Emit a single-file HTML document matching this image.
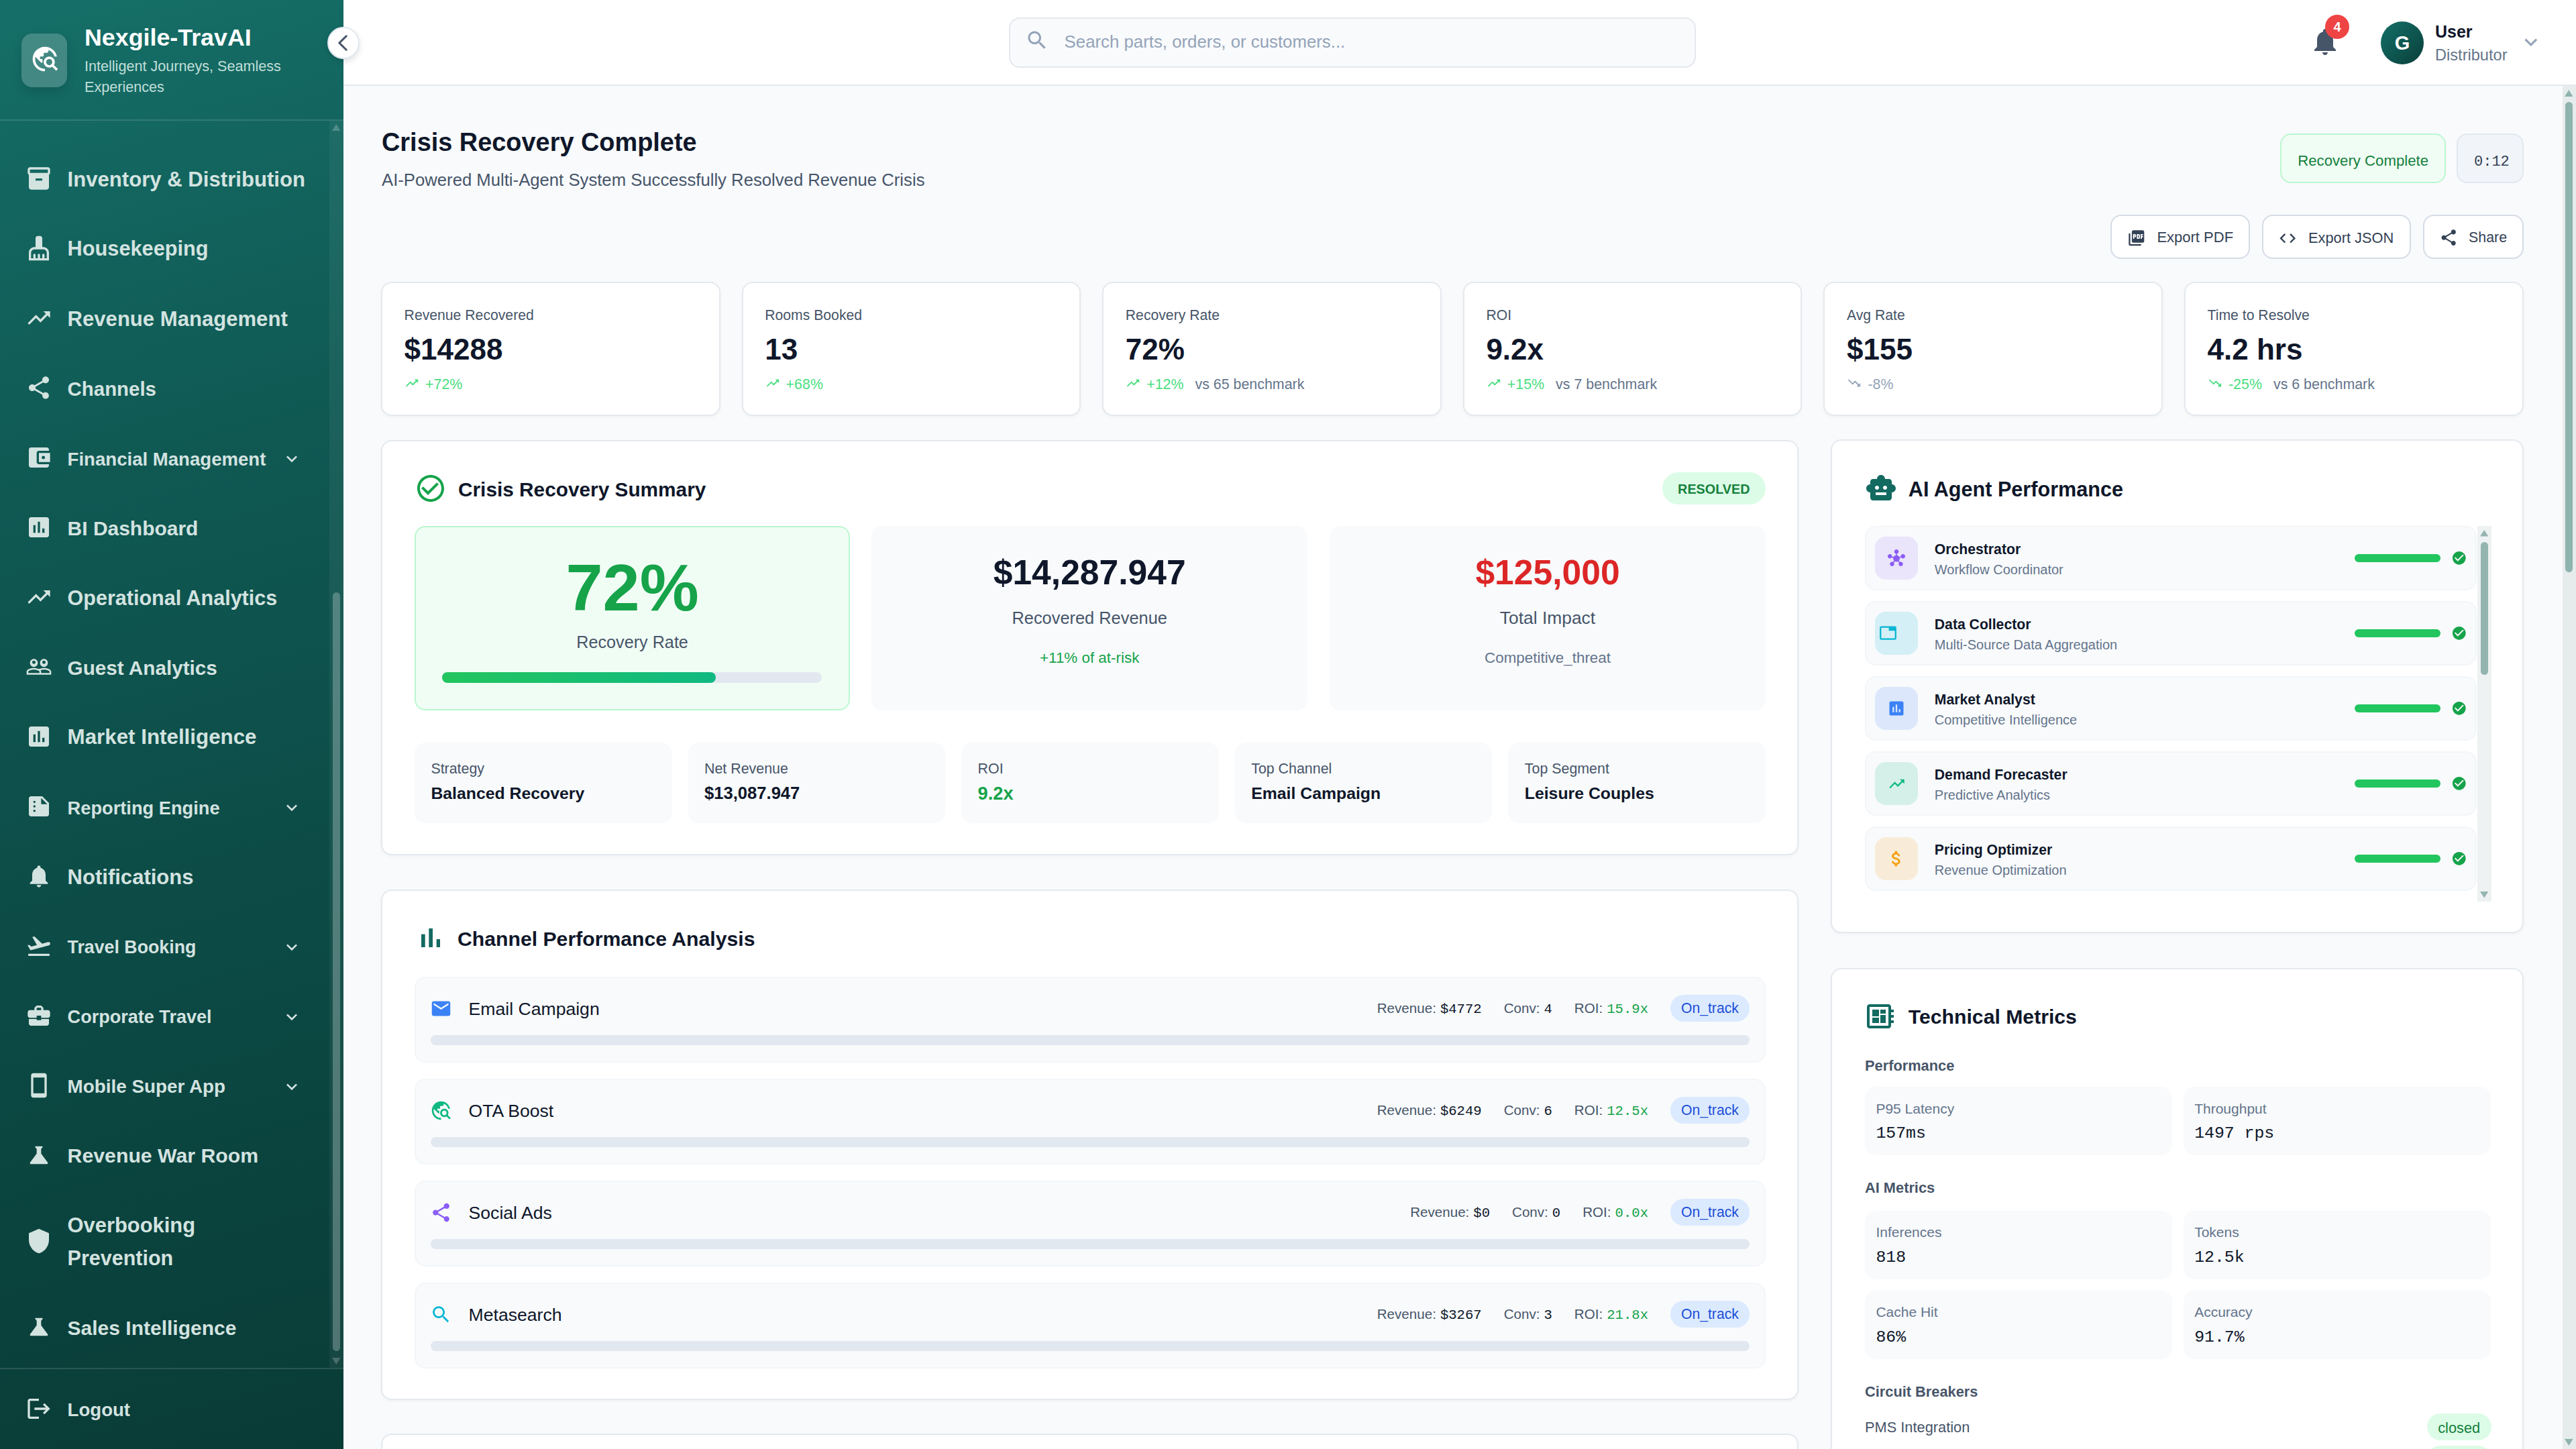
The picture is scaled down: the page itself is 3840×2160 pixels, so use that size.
<!DOCTYPE html>
<html><head><meta charset="utf-8"><title>Nexgile-TravAI</title>
<style>
html,body{margin:0;padding:0;overflow:hidden;background:#f8fafc;}
#root{position:relative;width:1920px;height:1080px;overflow:hidden;font-family:'Liberation Sans', sans-serif;}
@media (min-width: 2400px) { #root{zoom:2;} }
.t{position:absolute;white-space:nowrap;line-height:1;}
svg{display:block;}
</style></head><body><div id="root">
<div style="position:absolute;left:0.00px;top:0.00px;width:256.00px;height:1080.00px;background:linear-gradient(165deg,#156f68 0%,#105a54 30%,#0c4a45 65%,#093b36 100%);"></div>
<div style="position:absolute;left:0.00px;top:89.00px;width:256.00px;height:1.00px;background:rgba(255,255,255,0.13);"></div>
<div style="position:absolute;left:16.00px;top:25.00px;width:34.00px;height:40.00px;border-radius:8px;background:rgba(255,255,255,0.2);box-shadow:0 4px 8px rgba(0,0,0,0.12);"></div>
<svg style="position:absolute;left:22.30px;top:33.00px;" width="22" height="22" viewBox="0 0 24 24"><path fill="#ffffff" d="M19.3 16.9c.4-.7.7-1.5.7-2.4 0-2.5-2-4.5-4.5-4.5S11 12 11 14.5s2 4.5 4.5 4.5c.9 0 1.7-.3 2.4-.7l3.2 3.2 1.4-1.4-3.2-3.2zm-3.8.1c-1.4 0-2.5-1.1-2.5-2.5s1.1-2.5 2.5-2.5 2.5 1.1 2.5 2.5-1.1 2.5-2.5 2.5zM12 20v2C6.48 22 2 17.52 2 12S6.48 2 12 2c4.84 0 8.87 3.44 9.8 8h-2.07c-.64-2.46-2.4-4.47-4.73-5.41V5c0 1.1-.9 2-2 2h-2v2c0 .55-.45 1-1 1H8v2h2v3H9l-4.79-4.79C4.08 10.79 4 11.38 4 12c0 4.41 3.59 8 8 8z"/></svg>
<div class="t" style="left:63.00px;top:19.64px;font-size:17.9px;color:#ffffff;font-weight:700;font-family:'Liberation Sans', sans-serif;">Nexgile-TravAI</div>
<div class="t" style="left:63.00px;top:44.06px;font-size:10.8px;color:rgba(225,245,240,0.85);font-weight:400;font-family:'Liberation Sans', sans-serif;">Intelligent Journeys, Seamless</div>
<div class="t" style="left:63.00px;top:59.56px;font-size:10.8px;color:rgba(225,245,240,0.85);font-weight:400;font-family:'Liberation Sans', sans-serif;">Experiences</div>
<div style="position:absolute;left:245.50px;top:90.00px;width:10.50px;height:929.50px;background:rgba(255,255,255,0.05);"></div>
<svg style="position:absolute;left:247.60px;top:92.60px" width="6.2" height="5" viewBox="0 0 6.2 5"><polygon points="0,5 3.1,0 6.2,5" fill="rgba(255,255,255,0.22)"/></svg>
<div style="position:absolute;left:248.00px;top:441.50px;width:5.60px;height:565.50px;border-radius:3px;background:rgba(255,255,255,0.25);"></div>
<svg style="position:absolute;left:247.60px;top:1011.80px" width="6.2" height="5" viewBox="0 0 6.2 5"><polygon points="0,0 6.2,0 3.1,5" fill="rgba(255,255,255,0.22)"/></svg>
<svg style="position:absolute;left:19.00px;top:122.80px;" width="20" height="20" viewBox="0 0 24 24"><path fill="#d3e3e0" d="M20 2H4c-1 0-2 .9-2 2v3.01c0 .72.43 1.34 1 1.69V20c0 1.1 1.1 2 2 2h14c.9 0 2-.9 2-2V8.7c.57-.35 1-.97 1-1.69V4c0-1.1-1-2-2-2zm-5 12H9v-2h6v2zm5-7H4V4l16-.02V7z"/></svg>
<div class="t" style="left:50.30px;top:125.83px;font-size:15.56px;color:#d3e3e0;font-weight:700;font-family:'Liberation Sans', sans-serif;">Inventory &amp; Distribution</div>
<svg style="position:absolute;left:19.00px;top:174.80px;" width="20" height="20" viewBox="0 0 24 24"><path fill="#d3e3e0" d="M16 11h-1V3c0-1.1-.9-2-2-2h-2c-1.1 0-2 .9-2 2v8H8c-2.76 0-5 2.24-5 5v7h18v-7c0-2.76-2.24-5-5-5zm3 10h-2v-3c0-.55-.45-1-1-1s-1 .45-1 1v3h-2v-3c0-.55-.45-1-1-1s-1 .45-1 1v3H9v-3c0-.55-.45-1-1-1s-1 .45-1 1v3H5v-5c0-1.65 1.35-3 3-3h8c1.65 0 3 1.35 3 3v5z"/></svg>
<div class="t" style="left:50.30px;top:177.99px;font-size:15.36px;color:#d3e3e0;font-weight:700;font-family:'Liberation Sans', sans-serif;">Housekeeping</div>
<svg style="position:absolute;left:19.00px;top:226.80px;" width="20" height="20" viewBox="0 0 24 24"><path fill="#d3e3e0" d="M16 6l2.29 2.29-4.88 4.88-4-4L2 16.59 3.41 18l6-6 4 4 6.3-6.29L22 12V6z"/></svg>
<div class="t" style="left:50.30px;top:229.84px;font-size:15.54px;color:#d3e3e0;font-weight:700;font-family:'Liberation Sans', sans-serif;">Revenue Management</div>
<svg style="position:absolute;left:19.00px;top:278.80px;" width="20" height="20" viewBox="0 0 24 24"><path fill="#d3e3e0" d="M18 16.08c-.76 0-1.44.3-1.96.77L8.91 12.7c.05-.23.09-.46.09-.7s-.04-.47-.09-.7l7.05-4.11c.54.5 1.25.81 2.04.81 1.66 0 3-1.34 3-3s-1.34-3-3-3-3 1.34-3 3c0 .24.04.47.09.7L8.04 9.81C7.5 9.31 6.79 9 6 9c-1.66 0-3 1.34-3 3s1.34 3 3 3c.79 0 1.5-.31 2.04-.81l7.12 4.16c-.05.21-.08.43-.08.65 0 1.61 1.31 2.92 2.92 2.92 1.61 0 2.92-1.31 2.92-2.92s-1.31-2.92-2.92-2.92z"/></svg>
<div class="t" style="left:50.30px;top:282.55px;font-size:14.71px;color:#d3e3e0;font-weight:700;font-family:'Liberation Sans', sans-serif;">Channels</div>
<svg style="position:absolute;left:19.00px;top:330.80px;" width="20" height="20" viewBox="0 0 24 24"><path fill="#d3e3e0" d="M21 18v1c0 1.1-.9 2-2 2H5c-1.11 0-2-.9-2-2V5c0-1.1.89-2 2-2h14c1.1 0 2 .9 2 2v1h-9c-1.11 0-2 .9-2 2v8c0 1.1.89 2 2 2h9zm-9-2h10V8H12v8zm4-2.5c-.83 0-1.5-.67-1.5-1.5s.67-1.5 1.5-1.5 1.5.67 1.5 1.5-.67 1.5-1.5 1.5z"/></svg>
<div class="t" style="left:50.30px;top:335.32px;font-size:13.79px;color:#d3e3e0;font-weight:700;font-family:'Liberation Sans', sans-serif;">Financial Management</div>
<svg style="position:absolute;left:209.60px;top:333.80px;" width="16" height="16" viewBox="0 0 24 24"><path fill="#d3e3e0" d="M16.59 8.59L12 13.17 7.41 8.59 6 10l6 6 6-6z"/></svg>
<svg style="position:absolute;left:19.00px;top:382.80px;" width="20" height="20" viewBox="0 0 24 24"><path fill="#d3e3e0" d="M19 3H5c-1.1 0-2 .9-2 2v14c0 1.1.9 2 2 2h14c1.1 0 2-.9 2-2V5c0-1.1-.9-2-2-2zM9 17H7v-7h2v7zm4 0h-2V7h2v10zm4 0h-2v-4h2v4z"/></svg>
<div class="t" style="left:50.30px;top:386.31px;font-size:14.99px;color:#d3e3e0;font-weight:700;font-family:'Liberation Sans', sans-serif;">BI Dashboard</div>
<svg style="position:absolute;left:19.00px;top:434.80px;" width="20" height="20" viewBox="0 0 24 24"><path fill="#d3e3e0" d="M16 6l2.29 2.29-4.88 4.88-4-4L2 16.59 3.41 18l6-6 4 4 6.3-6.29L22 12V6z"/></svg>
<div class="t" style="left:50.30px;top:438.08px;font-size:15.26px;color:#d3e3e0;font-weight:700;font-family:'Liberation Sans', sans-serif;">Operational Analytics</div>
<svg style="position:absolute;left:19.00px;top:486.80px;" width="20" height="20" viewBox="0 0 24 24"><path fill="#d3e3e0" d="M16.5 13c-1.2 0-3.07.34-4.5 1-1.43-.67-3.3-1-4.5-1C5.33 13 1 14.08 1 16.25V19h22v-2.75c0-2.17-4.33-3.25-6.5-3.25zm-4 4.5h-10v-1.25c0-.54 2.56-1.75 5-1.75s5 1.21 5 1.75v1.25zm9 0H14v-1.25c0-.46-.2-.86-.52-1.22.88-.3 1.96-.53 3.02-.53 2.44 0 5 1.21 5 1.75v1.25zM7.5 12c1.93 0 3.5-1.57 3.5-3.5S9.43 5 7.5 5 4 6.57 4 8.5 5.57 12 7.5 12zm0-5.5c.83 0 1.5.67 1.5 1.5s-.67 1.5-1.5 1.5S6 8.83 6 8s.67-1.5 1.5-1.5zm9 5.5c1.93 0 3.5-1.57 3.5-3.5S18.43 5 16.5 5 13 6.57 13 8.5s1.57 3.5 3.5 3.5zm0-5.5c.83 0 1.5.67 1.5 1.5s-.67 1.5-1.5 1.5S15 8.83 15 8s.67-1.5 1.5-1.5z"/></svg>
<div class="t" style="left:50.30px;top:490.43px;font-size:14.85px;color:#d3e3e0;font-weight:700;font-family:'Liberation Sans', sans-serif;">Guest Analytics</div>
<svg style="position:absolute;left:19.00px;top:538.80px;" width="20" height="20" viewBox="0 0 24 24"><path fill="#d3e3e0" d="M19 3H5c-1.1 0-2 .9-2 2v14c0 1.1.9 2 2 2h14c1.1 0 2-.9 2-2V5c0-1.1-.9-2-2-2zM9 17H7v-7h2v7zm4 0h-2V7h2v10zm4 0h-2v-4h2v4z"/></svg>
<div class="t" style="left:50.30px;top:541.74px;font-size:15.66px;color:#d3e3e0;font-weight:700;font-family:'Liberation Sans', sans-serif;">Market Intelligence</div>
<svg style="position:absolute;left:19.00px;top:590.80px;" width="20" height="20" viewBox="0 0 24 24"><path fill="#d3e3e0" d="M15 3H5c-1.1 0-1.99.9-1.99 2L3 19c0 1.1.89 2 1.99 2H19c1.1 0 2-.9 2-2V9l-6-6zM8 17c-.55 0-1-.45-1-1s.45-1 1-1 1 .45 1 1-.45 1-1 1zm0-4c-.55 0-1-.45-1-1s.45-1 1-1 1 .45 1 1-.45 1-1 1zm0-4c-.55 0-1-.45-1-1s.45-1 1-1 1 .45 1 1-.45 1-1 1zm6 1V4.5l5.5 5.5H14z"/></svg>
<div class="t" style="left:50.30px;top:595.47px;font-size:13.62px;color:#d3e3e0;font-weight:700;font-family:'Liberation Sans', sans-serif;">Reporting Engine</div>
<svg style="position:absolute;left:209.60px;top:593.80px;" width="16" height="16" viewBox="0 0 24 24"><path fill="#d3e3e0" d="M16.59 8.59L12 13.17 7.41 8.59 6 10l6 6 6-6z"/></svg>
<svg style="position:absolute;left:19.00px;top:642.80px;" width="20" height="20" viewBox="0 0 24 24"><path fill="#d3e3e0" d="M12 22c1.1 0 2-.9 2-2h-4c0 1.1.89 2 2 2zm6-6v-5c0-3.07-1.64-5.64-4.5-6.32V4c0-.83-.67-1.5-1.5-1.5s-1.5.67-1.5 1.5v.68C7.63 5.36 6 7.92 6 11v5l-2 2v1h16v-1l-2-2z"/></svg>
<div class="t" style="left:50.30px;top:645.86px;font-size:15.52px;color:#d3e3e0;font-weight:700;font-family:'Liberation Sans', sans-serif;">Notifications</div>
<svg style="position:absolute;left:19.00px;top:694.80px;" width="20" height="20" viewBox="0 0 24 24"><path fill="#d3e3e0" d="M2.5 19h19v2h-19v-2zm19.57-9.36c-.21-.8-1.04-1.28-1.84-1.06L14.92 10l-6.9-6.43-1.93.51 4.14 7.17-4.97 1.33-1.97-1.54-1.45.39 2.59 4.49s7.12-1.9 16.57-4.43c.81-.23 1.28-1.05 1.07-1.85z"/></svg>
<div class="t" style="left:50.30px;top:699.67px;font-size:13.38px;color:#d3e3e0;font-weight:700;font-family:'Liberation Sans', sans-serif;">Travel Booking</div>
<svg style="position:absolute;left:209.60px;top:697.80px;" width="16" height="16" viewBox="0 0 24 24"><path fill="#d3e3e0" d="M16.59 8.59L12 13.17 7.41 8.59 6 10l6 6 6-6z"/></svg>
<svg style="position:absolute;left:19.00px;top:746.80px;" width="20" height="20" viewBox="0 0 24 24"><path fill="#d3e3e0" d="M10 16v-1H3.01L3 19c0 1.11.89 2 2 2h14c1.11 0 2-.89 2-2v-4h-7v1h-4zm10-9h-4.01V5l-2-2h-4l-2 2v2H4c-1.1 0-2 .9-2 2v3c0 1.11.89 2 2 2h6v-2h4v2h6c1.1 0 2-.9 2-2V9c0-1.1-.9-2-2-2zm-6 0h-4V5h4v2z"/></svg>
<div class="t" style="left:50.30px;top:751.54px;font-size:13.53px;color:#d3e3e0;font-weight:700;font-family:'Liberation Sans', sans-serif;">Corporate Travel</div>
<svg style="position:absolute;left:209.60px;top:749.80px;" width="16" height="16" viewBox="0 0 24 24"><path fill="#d3e3e0" d="M16.59 8.59L12 13.17 7.41 8.59 6 10l6 6 6-6z"/></svg>
<svg style="position:absolute;left:19.00px;top:798.80px;" width="20" height="20" viewBox="0 0 24 24"><path fill="#d3e3e0" d="M17 1.01L7 1c-1.1 0-2 .9-2 2v18c0 1.1.9 2 2 2h10c1.1 0 2-.9 2-2V3c0-1.1-.9-1.99-2-1.99zM17 19H7V5h10v14z"/></svg>
<div class="t" style="left:50.30px;top:803.21px;font-size:13.92px;color:#d3e3e0;font-weight:700;font-family:'Liberation Sans', sans-serif;">Mobile Super App</div>
<svg style="position:absolute;left:209.60px;top:801.80px;" width="16" height="16" viewBox="0 0 24 24"><path fill="#d3e3e0" d="M16.59 8.59L12 13.17 7.41 8.59 6 10l6 6 6-6z"/></svg>
<svg style="position:absolute;left:19.00px;top:850.80px;" width="20" height="20" viewBox="0 0 24 24"><path fill="#d3e3e0" d="M19.8 18.4L14 10.67V6.5l1.35-1.69c.26-.33.03-.81-.39-.81H9.04c-.42 0-.65.48-.39.81L10 6.5v4.17L4.2 18.4c-.49.66-.02 1.6.8 1.6h14c.82 0 1.29-.94.8-1.6z"/></svg>
<div class="t" style="left:50.30px;top:854.19px;font-size:15.13px;color:#d3e3e0;font-weight:700;font-family:'Liberation Sans', sans-serif;">Revenue War Room</div>
<svg style="position:absolute;left:19.00px;top:915.00px;" width="20" height="20" viewBox="0 0 24 24"><path fill="#d3e3e0" d="M12 1L3 5v6c0 5.55 3.84 10.74 9 12 5.16-1.26 9-6.45 9-12V5l-9-4z"/></svg>
<div class="t" style="left:50.30px;top:905.92px;font-size:15.45px;color:#d3e3e0;font-weight:700;font-family:'Liberation Sans', sans-serif;">Overbooking</div>
<div class="t" style="left:50.30px;top:930.09px;font-size:15.25px;color:#d3e3e0;font-weight:700;font-family:'Liberation Sans', sans-serif;">Prevention</div>
<svg style="position:absolute;left:19.00px;top:978.80px;" width="20" height="20" viewBox="0 0 24 24"><path fill="#d3e3e0" d="M19.8 18.4L14 10.67V6.5l1.35-1.69c.26-.33.03-.81-.39-.81H9.04c-.42 0-.65.48-.39.81L10 6.5v4.17L4.2 18.4c-.49.66-.02 1.6.8 1.6h14c.82 0 1.29-.94.8-1.6z"/></svg>
<div class="t" style="left:50.30px;top:982.30px;font-size:15.0px;color:#d3e3e0;font-weight:700;font-family:'Liberation Sans', sans-serif;">Sales Intelligence</div>
<div style="position:absolute;left:0.00px;top:1019.50px;width:256.00px;height:1.00px;background:rgba(255,255,255,0.13);"></div>
<svg style="position:absolute;left:19.00px;top:1040.00px;" width="20" height="20" viewBox="0 0 24 24"><path fill="#d3e3e0" d="M17 7l-1.41 1.41L18.17 11H8v2h10.17l-2.58 2.58L17 17l5-5zM4 5h8V3H4c-1.1 0-2 .9-2 2v14c0 1.1.9 2 2 2h8v-2H4V5z"/></svg>
<div class="t" style="left:50.30px;top:1043.92px;font-size:13.8px;color:#d3e3e0;font-weight:700;font-family:'Liberation Sans', sans-serif;">Logout</div>
<div style="position:absolute;left:256.00px;top:0.00px;width:1664.00px;height:64.00px;background:#ffffff;border-bottom:1px solid #e5e9ee;box-sizing:border-box;box-shadow:0 1px 3px rgba(15,23,42,0.06);"></div>
<div style="position:absolute;left:752.00px;top:13.00px;width:512.00px;height:37.50px;background:#f8fafc;border:1px solid #e4e8ee;box-sizing:border-box;border-radius:8px;"></div>
<svg style="position:absolute;left:764.20px;top:21.00px;" width="18" height="18" viewBox="0 0 24 24"><path fill="#94a3b8" d="M15.5 14h-.79l-.28-.27C15.41 12.59 16 11.11 16 9.5 16 5.91 13.09 3 9.5 3S3 5.91 3 9.5 5.91 16 9.5 16c1.61 0 3.09-.59 4.23-1.57l.27.28v.79l5 4.99L20.49 19l-4.99-5zm-6 0C7.01 14 5 11.99 5 9.5S7.01 5 9.5 5 14 7.01 14 9.5 11.99 14 9.5 14z"/></svg>
<div class="t" style="left:793.30px;top:24.88px;font-size:12.9px;color:#94a3b8;font-weight:400;font-family:'Liberation Sans', sans-serif;">Search parts, orders, or customers...</div>
<svg style="position:absolute;left:1721.00px;top:19.00px;" width="24" height="24" viewBox="0 0 24 24"><path fill="#475569" d="M12 22c1.1 0 2-.9 2-2h-4c0 1.1.89 2 2 2zm6-6v-5c0-3.07-1.64-5.64-4.5-6.32V4c0-.83-.67-1.5-1.5-1.5s-1.5.67-1.5 1.5v.68C7.63 5.36 6 7.92 6 11v5l-2 2v1h16v-1l-2-2z"/></svg>
<div style="position:absolute;left:1733.00px;top:11.00px;width:18.00px;height:18.00px;border-radius:50%;background:#ef4444;"></div>
<div class="t" style="left:1342.00px;width:800px;text-align:center;top:15.13px;font-size:10px;color:#ffffff;font-weight:700;font-family:'Liberation Sans', sans-serif;">4</div>
<div style="position:absolute;left:1774.50px;top:16.00px;width:32.00px;height:32.00px;border-radius:50%;background:linear-gradient(135deg,#137068,#0a3f3a);"></div>
<div class="t" style="left:1390.50px;width:800px;text-align:center;top:24.92px;font-size:14.5px;color:#ffffff;font-weight:700;font-family:'Liberation Sans', sans-serif;">G</div>
<div class="t" style="left:1815.00px;top:17.42px;font-size:12.5px;color:#0f172a;font-weight:700;font-family:'Liberation Sans', sans-serif;">User</div>
<div class="t" style="left:1815.00px;top:35.61px;font-size:11.8px;color:#64748b;font-weight:400;font-family:'Liberation Sans', sans-serif;">Distributor</div>
<svg style="position:absolute;left:1876.90px;top:22.20px;" width="18.8" height="18.8" viewBox="0 0 24 24"><path fill="#94a3b8" d="M16.59 8.59L12 13.17 7.41 8.59 6 10l6 6 6-6z"/></svg>
<div style="position:absolute;left:256.00px;top:64.00px;width:1654.00px;height:1016.00px;background:#f8fafc;"></div>
<div style="position:absolute;left:1910.00px;top:64.00px;width:10.00px;height:1016.00px;background:#e6ecec;"></div>
<svg style="position:absolute;left:1911.60px;top:66.90px" width="6.3" height="5" viewBox="0 0 6.3 5"><polygon points="0,5 3.15,0 6.3,5" fill="#8fb3ae"/></svg>
<div style="position:absolute;left:1912.00px;top:76.00px;width:5.40px;height:350.40px;border-radius:3px;background:#8fb3ae;"></div>
<svg style="position:absolute;left:1911.60px;top:1072.30px" width="6.3" height="5" viewBox="0 0 6.3 5"><polygon points="0,0 6.3,0 3.15,5" fill="#8fb3ae"/></svg>
<div class="t" style="left:284.50px;top:96.96px;font-size:18.95px;color:#0f172a;font-weight:700;font-family:'Liberation Sans', sans-serif;">Crisis Recovery Complete</div>
<div class="t" style="left:284.50px;top:128.02px;font-size:12.85px;color:#475569;font-weight:400;font-family:'Liberation Sans', sans-serif;">AI-Powered Multi-Agent System Successfully Resolved Revenue Crisis</div>
<div style="position:absolute;left:1699.60px;top:99.70px;width:123.40px;height:36.70px;background:#f0fdf4;border:1px solid #bbf7d0;box-sizing:border-box;border-radius:8px;"></div>
<div class="t" style="left:1712.60px;top:114.60px;font-size:11.1px;color:#15803d;font-weight:400;font-family:'Liberation Sans', sans-serif;">Recovery Complete</div>
<div style="position:absolute;left:1831.00px;top:99.70px;width:50.00px;height:36.70px;background:#f1f5f9;border:1px solid #e2e8f0;box-sizing:border-box;border-radius:8px;"></div>
<div class="t" style="left:1844.00px;top:115.57px;font-size:11px;color:#334155;font-weight:400;font-family:'Liberation Mono', monospace;">0:12</div>
<div style="position:absolute;left:1573.00px;top:160.00px;width:104.00px;height:33.00px;background:#ffffff;border:1px solid #d5dce5;box-sizing:border-box;border-radius:8px;"></div>
<div style="position:absolute;left:1686.00px;top:160.00px;width:111.00px;height:33.00px;background:#ffffff;border:1px solid #d5dce5;box-sizing:border-box;border-radius:8px;"></div>
<div style="position:absolute;left:1805.80px;top:160.00px;width:75.20px;height:33.00px;background:#ffffff;border:1px solid #d5dce5;box-sizing:border-box;border-radius:8px;"></div>
<svg style="position:absolute;left:1585.30px;top:170.60px;" width="13.8" height="13.8" viewBox="0 0 24 24"><path fill="#334155" d="M20 2H8c-1.1 0-2 .9-2 2v12c0 1.1.9 2 2 2h12c1.1 0 2-.9 2-2V4c0-1.1-.9-2-2-2zm-8.5 7.5c0 .83-.67 1.5-1.5 1.5H9v2H7.5V7H10c.83 0 1.5.67 1.5 1.5v1zm5 2c0 .83-.67 1.5-1.5 1.5h-2.5V7H15c.83 0 1.5.67 1.5 1.5v3zm4-3H19v1h1.5V11H19v2h-1.5V7h3v1.5zM9 9.5h1v-1H9v1zM4 6H2v14c0 1.1.9 2 2 2h14v-2H4V6zm10 5.5h1v-3h-1v3z"/></svg>
<div class="t" style="left:1607.70px;top:171.69px;font-size:11.0px;color:#334155;font-weight:400;font-family:'Liberation Sans', sans-serif;">Export PDF</div>
<svg style="position:absolute;left:1697.80px;top:170.30px;" width="14.2" height="14.2" viewBox="0 0 24 24"><path fill="#334155" d="M9.4 16.6L4.8 12l4.6-4.6L8 6l-6 6 6 6 1.4-1.4zm5.2 0l4.6-4.6-4.6-4.6L16 6l6 6-6 6-1.4-1.4z"/></svg>
<div class="t" style="left:1720.50px;top:171.77px;font-size:10.9px;color:#334155;font-weight:400;font-family:'Liberation Sans', sans-serif;">Export JSON</div>
<svg style="position:absolute;left:1817.90px;top:170.00px;" width="14.2" height="14.2" viewBox="0 0 24 24"><path fill="#334155" d="M18 16.08c-.76 0-1.44.3-1.96.77L8.91 12.7c.05-.23.09-.46.09-.7s-.04-.47-.09-.7l7.05-4.11c.54.5 1.25.81 2.04.81 1.66 0 3-1.34 3-3s-1.34-3-3-3-3 1.34-3 3c0 .24.04.47.09.7L8.04 9.81C7.5 9.31 6.79 9 6 9c-1.66 0-3 1.34-3 3s1.34 3 3 3c.79 0 1.5-.31 2.04-.81l7.12 4.16c-.05.21-.08.43-.08.65 0 1.61 1.31 2.92 2.92 2.92 1.61 0 2.92-1.31 2.92-2.92s-1.31-2.92-2.92-2.92z"/></svg>
<div class="t" style="left:1840.00px;top:171.94px;font-size:10.7px;color:#334155;font-weight:400;font-family:'Liberation Sans', sans-serif;">Share</div>
<div style="position:absolute;left:284.00px;top:210.00px;width:252.80px;height:100.00px;background:#ffffff;border:1px solid #e5e9ee;box-sizing:border-box;border-radius:8px;box-shadow:0 1px 2px rgba(15,23,42,0.04);"></div>
<div class="t" style="left:301.30px;top:229.52px;font-size:10.6px;color:#475569;font-weight:400;font-family:'Liberation Sans', sans-serif;">Revenue Recovered</div>
<div class="t" style="left:301.30px;top:249.47px;font-size:22px;color:#0f172a;font-weight:700;font-family:'Liberation Sans', sans-serif;">$14288</div>
<div class="t" style="left:301.50px;top:281.24px;display:flex;align-items:center;font-size:10.7px;line-height:1;font-family:'Liberation Sans', sans-serif;"><svg width="11" height="11" viewBox="0 0 24 24" style="margin-right:4.5px;position:relative;top:-1px"><path fill="#4ade80" d="M16 6l2.29 2.29-4.88 4.88-4-4L2 16.59 3.41 18l6-6 4 4 6.3-6.29L22 12V6z"/></svg><span style="color:#4ade80">+72%</span></div>
<div style="position:absolute;left:552.80px;top:210.00px;width:252.80px;height:100.00px;background:#ffffff;border:1px solid #e5e9ee;box-sizing:border-box;border-radius:8px;box-shadow:0 1px 2px rgba(15,23,42,0.04);"></div>
<div class="t" style="left:570.10px;top:229.52px;font-size:10.6px;color:#475569;font-weight:400;font-family:'Liberation Sans', sans-serif;">Rooms Booked</div>
<div class="t" style="left:570.10px;top:249.47px;font-size:22px;color:#0f172a;font-weight:700;font-family:'Liberation Sans', sans-serif;">13</div>
<div class="t" style="left:570.30px;top:281.24px;display:flex;align-items:center;font-size:10.7px;line-height:1;font-family:'Liberation Sans', sans-serif;"><svg width="11" height="11" viewBox="0 0 24 24" style="margin-right:4.5px;position:relative;top:-1px"><path fill="#4ade80" d="M16 6l2.29 2.29-4.88 4.88-4-4L2 16.59 3.41 18l6-6 4 4 6.3-6.29L22 12V6z"/></svg><span style="color:#4ade80">+68%</span></div>
<div style="position:absolute;left:821.60px;top:210.00px;width:252.80px;height:100.00px;background:#ffffff;border:1px solid #e5e9ee;box-sizing:border-box;border-radius:8px;box-shadow:0 1px 2px rgba(15,23,42,0.04);"></div>
<div class="t" style="left:838.90px;top:229.52px;font-size:10.6px;color:#475569;font-weight:400;font-family:'Liberation Sans', sans-serif;">Recovery Rate</div>
<div class="t" style="left:838.90px;top:249.47px;font-size:22px;color:#0f172a;font-weight:700;font-family:'Liberation Sans', sans-serif;">72%</div>
<div class="t" style="left:839.10px;top:281.24px;display:flex;align-items:center;font-size:10.7px;line-height:1;font-family:'Liberation Sans', sans-serif;"><svg width="11" height="11" viewBox="0 0 24 24" style="margin-right:4.5px;position:relative;top:-1px"><path fill="#4ade80" d="M16 6l2.29 2.29-4.88 4.88-4-4L2 16.59 3.41 18l6-6 4 4 6.3-6.29L22 12V6z"/></svg><span style="color:#4ade80">+12%</span><span style="color:#64748b;margin-left:8.5px">vs 65 benchmark</span></div>
<div style="position:absolute;left:1090.40px;top:210.00px;width:252.80px;height:100.00px;background:#ffffff;border:1px solid #e5e9ee;box-sizing:border-box;border-radius:8px;box-shadow:0 1px 2px rgba(15,23,42,0.04);"></div>
<div class="t" style="left:1107.70px;top:229.52px;font-size:10.6px;color:#475569;font-weight:400;font-family:'Liberation Sans', sans-serif;">ROI</div>
<div class="t" style="left:1107.70px;top:249.47px;font-size:22px;color:#0f172a;font-weight:700;font-family:'Liberation Sans', sans-serif;">9.2x</div>
<div class="t" style="left:1107.90px;top:281.24px;display:flex;align-items:center;font-size:10.7px;line-height:1;font-family:'Liberation Sans', sans-serif;"><svg width="11" height="11" viewBox="0 0 24 24" style="margin-right:4.5px;position:relative;top:-1px"><path fill="#4ade80" d="M16 6l2.29 2.29-4.88 4.88-4-4L2 16.59 3.41 18l6-6 4 4 6.3-6.29L22 12V6z"/></svg><span style="color:#4ade80">+15%</span><span style="color:#64748b;margin-left:8.5px">vs 7 benchmark</span></div>
<div style="position:absolute;left:1359.20px;top:210.00px;width:252.80px;height:100.00px;background:#ffffff;border:1px solid #e5e9ee;box-sizing:border-box;border-radius:8px;box-shadow:0 1px 2px rgba(15,23,42,0.04);"></div>
<div class="t" style="left:1376.50px;top:229.52px;font-size:10.6px;color:#475569;font-weight:400;font-family:'Liberation Sans', sans-serif;">Avg Rate</div>
<div class="t" style="left:1376.50px;top:249.47px;font-size:22px;color:#0f172a;font-weight:700;font-family:'Liberation Sans', sans-serif;">$155</div>
<div class="t" style="left:1376.70px;top:281.24px;display:flex;align-items:center;font-size:10.7px;line-height:1;font-family:'Liberation Sans', sans-serif;"><svg width="11" height="11" viewBox="0 0 24 24" style="margin-right:4.5px;position:relative;top:-1px"><path fill="#94a3b8" d="M16 18l2.29-2.29-4.88-4.88-4 4L2 7.41 3.41 6l6 6 4-4 6.3 6.29L22 12v6z"/></svg><span style="color:#94a3b8">-8%</span></div>
<div style="position:absolute;left:1628.00px;top:210.00px;width:252.80px;height:100.00px;background:#ffffff;border:1px solid #e5e9ee;box-sizing:border-box;border-radius:8px;box-shadow:0 1px 2px rgba(15,23,42,0.04);"></div>
<div class="t" style="left:1645.30px;top:229.52px;font-size:10.6px;color:#475569;font-weight:400;font-family:'Liberation Sans', sans-serif;">Time to Resolve</div>
<div class="t" style="left:1645.30px;top:249.47px;font-size:22px;color:#0f172a;font-weight:700;font-family:'Liberation Sans', sans-serif;">4.2 hrs</div>
<div class="t" style="left:1645.50px;top:281.24px;display:flex;align-items:center;font-size:10.7px;line-height:1;font-family:'Liberation Sans', sans-serif;"><svg width="11" height="11" viewBox="0 0 24 24" style="margin-right:4.5px;position:relative;top:-1px"><path fill="#4ade80" d="M16 18l2.29-2.29-4.88-4.88-4 4L2 7.41 3.41 6l6 6 4-4 6.3 6.29L22 12v6z"/></svg><span style="color:#4ade80">-25%</span><span style="color:#64748b;margin-left:8.5px">vs 6 benchmark</span></div>
<div style="position:absolute;left:284.00px;top:328.00px;width:1056.70px;height:309.50px;background:#ffffff;border:1px solid #e5e9ee;box-sizing:border-box;border-radius:8px;box-shadow:0 1px 2px rgba(15,23,42,0.04);"></div>
<svg style="position:absolute;left:309.00px;top:352.00px;" width="24" height="24" viewBox="0 0 24 24"><path fill="#16a34a" d="M16.59 7.58L10 14.17l-3.59-3.58L5 12l5 5 8-8zM12 2C6.48 2 2 6.48 2 12s4.48 10 10 10 10-4.48 10-10S17.52 2 12 2zm0 18c-4.42 0-8-3.58-8-8s3.58-8 8-8 8 3.58 8 8-3.58 8-8 8z"/></svg>
<div class="t" style="left:341.50px;top:357.38px;font-size:14.9px;color:#0f172a;font-weight:700;font-family:'Liberation Sans', sans-serif;">Crisis Recovery Summary</div>
<div style="position:absolute;left:1239.00px;top:352.00px;width:76.80px;height:24.00px;background:#dcfce7;border-radius:12px;"></div>
<div class="t" style="left:877.40px;width:800px;text-align:center;top:359.92px;font-size:9.9px;color:#15803d;font-weight:700;font-family:'Liberation Sans', sans-serif;">RESOLVED</div>
<div style="position:absolute;left:309.00px;top:392.00px;width:324.60px;height:137.30px;background:#f0fdf4;border:1px solid #bbf7d0;box-sizing:border-box;border-radius:8px;"></div>
<div class="t" style="left:71.30px;width:800px;text-align:center;top:413.09px;font-size:49.5px;color:#16a34a;font-weight:700;font-family:'Liberation Sans', sans-serif;">72%</div>
<div class="t" style="left:71.30px;width:800px;text-align:center;top:472.43px;font-size:12.6px;color:#475569;font-weight:400;font-family:'Liberation Sans', sans-serif;">Recovery Rate</div>
<div style="position:absolute;left:329.60px;top:500.80px;width:283.00px;height:8.00px;background:#e2e8f0;border-radius:4px;"></div>
<div style="position:absolute;left:329.60px;top:500.80px;width:203.80px;height:8.00px;background:linear-gradient(90deg,#22c55e,#10b981);border-radius:4px;"></div>
<div style="position:absolute;left:649.60px;top:392.00px;width:325.00px;height:137.30px;background:#f8fafc;border-radius:8px;"></div>
<div class="t" style="left:412.10px;width:800px;text-align:center;top:414.06px;font-size:25.8px;color:#0f172a;font-weight:700;font-family:'Liberation Sans', sans-serif;">$14,287.947</div>
<div class="t" style="left:412.10px;width:800px;text-align:center;top:454.35px;font-size:12.7px;color:#475569;font-weight:400;font-family:'Liberation Sans', sans-serif;">Recovered Revenue</div>
<div class="t" style="left:412.10px;width:800px;text-align:center;top:485.12px;font-size:11.2px;color:#16a34a;font-weight:400;font-family:'Liberation Sans', sans-serif;">+11% of at-risk</div>
<div style="position:absolute;left:991.00px;top:392.00px;width:325.00px;height:137.30px;background:#f8fafc;border-radius:8px;"></div>
<div class="t" style="left:753.50px;width:800px;text-align:center;top:414.06px;font-size:25.8px;color:#dc2626;font-weight:700;font-family:'Liberation Sans', sans-serif;">$125,000</div>
<div class="t" style="left:753.50px;width:800px;text-align:center;top:453.92px;font-size:13.2px;color:#475569;font-weight:400;font-family:'Liberation Sans', sans-serif;">Total Impact</div>
<div class="t" style="left:753.50px;width:800px;text-align:center;top:485.12px;font-size:11.2px;color:#64748b;font-weight:400;font-family:'Liberation Sans', sans-serif;">Competitive_threat</div>
<div style="position:absolute;left:309.00px;top:553.50px;width:191.80px;height:60.10px;background:#f8fafc;border-radius:8px;"></div>
<div class="t" style="left:321.20px;top:568.24px;font-size:10.7px;color:#475569;font-weight:400;font-family:'Liberation Sans', sans-serif;">Strategy</div>
<div class="t" style="left:321.20px;top:585.40px;font-size:12.4px;color:#0f172a;font-weight:700;font-family:'Liberation Sans', sans-serif;">Balanced Recovery</div>
<div style="position:absolute;left:512.80px;top:553.50px;width:191.80px;height:60.10px;background:#f8fafc;border-radius:8px;"></div>
<div class="t" style="left:525.00px;top:568.24px;font-size:10.7px;color:#475569;font-weight:400;font-family:'Liberation Sans', sans-serif;">Net Revenue</div>
<div class="t" style="left:525.00px;top:585.06px;font-size:12.8px;color:#0f172a;font-weight:700;font-family:'Liberation Sans', sans-serif;">$13,087.947</div>
<div style="position:absolute;left:716.60px;top:553.50px;width:191.80px;height:60.10px;background:#f8fafc;border-radius:8px;"></div>
<div class="t" style="left:728.80px;top:568.24px;font-size:10.7px;color:#475569;font-weight:400;font-family:'Liberation Sans', sans-serif;">ROI</div>
<div class="t" style="left:728.80px;top:584.38px;font-size:13.6px;color:#16a34a;font-weight:700;font-family:'Liberation Sans', sans-serif;">9.2x</div>
<div style="position:absolute;left:920.40px;top:553.50px;width:191.80px;height:60.10px;background:#f8fafc;border-radius:8px;"></div>
<div class="t" style="left:932.60px;top:568.24px;font-size:10.7px;color:#475569;font-weight:400;font-family:'Liberation Sans', sans-serif;">Top Channel</div>
<div class="t" style="left:932.60px;top:585.40px;font-size:12.4px;color:#0f172a;font-weight:700;font-family:'Liberation Sans', sans-serif;">Email Campaign</div>
<div style="position:absolute;left:1124.20px;top:553.50px;width:191.80px;height:60.10px;background:#f8fafc;border-radius:8px;"></div>
<div class="t" style="left:1136.40px;top:568.24px;font-size:10.7px;color:#475569;font-weight:400;font-family:'Liberation Sans', sans-serif;">Top Segment</div>
<div class="t" style="left:1136.40px;top:585.40px;font-size:12.4px;color:#0f172a;font-weight:700;font-family:'Liberation Sans', sans-serif;">Leisure Couples</div>
<div style="position:absolute;left:284.00px;top:662.80px;width:1056.70px;height:380.60px;background:#ffffff;border:1px solid #e5e9ee;box-sizing:border-box;border-radius:8px;box-shadow:0 1px 2px rgba(15,23,42,0.04);"></div>
<svg style="position:absolute;left:313.9px;top:692px" width="14.2" height="14.2" viewBox="0 0 14.2 14.2"><rect x="0" y="4.3" width="2.85" height="9.9" fill="#136a61"/><rect x="5.65" y="0" width="2.85" height="14.2" fill="#136a61"/><rect x="11.35" y="8" width="2.85" height="6.2" fill="#136a61"/></svg>
<div class="t" style="left:341.00px;top:692.51px;font-size:15.1px;color:#0f172a;font-weight:700;font-family:'Liberation Sans', sans-serif;">Channel Performance Analysis</div>
<div style="position:absolute;left:309.00px;top:728.00px;width:1006.80px;height:64.00px;background:#f8fafc;border:1px solid #f3f6f9;box-sizing:border-box;border-radius:8px;"></div>
<svg style="position:absolute;left:320.60px;top:743.30px;" width="16.5" height="16.5" viewBox="0 0 24 24"><path fill="#3b82f6" d="M20 4H4c-1.1 0-1.99.9-1.99 2L2 18c0 1.1.9 2 2 2h16c1.1 0 2-.9 2-2V6c0-1.1-.9-2-2-2zm0 4l-8 5-8-5V6l8 5 8-5v2z"/></svg>
<div class="t" style="left:349.30px;top:745.34px;font-size:13.3px;color:#0f172a;font-weight:400;font-family:'Liberation Sans', sans-serif;">Email Campaign</div>
<div style="position:absolute;left:1244.90px;top:741.70px;width:59.10px;height:19.80px;background:#dbeafe;border-radius:10px;"></div>
<div class="t" style="left:874.45px;width:800px;text-align:center;top:746.02px;font-size:10.6px;color:#1d4ed8;font-weight:400;font-family:'Liberation Sans', sans-serif;">On_track</div>
<div class="t" style="right:691.50px;top:746.28px;font-size:10.3px;font-family:'Liberation Sans', sans-serif;color:#475569;display:flex;align-items:baseline;"><span>Revenue:</span><span style="font-family:'Liberation Mono', monospace;color:#0f172a;margin-left:3px">$4772</span><span style="margin-left:16.5px">Conv:</span><span style="font-family:'Liberation Mono', monospace;color:#0f172a;margin-left:3px">4</span><span style="margin-left:16.5px">ROI:</span><span style="font-family:'Liberation Mono', monospace;color:#16a34a;margin-left:3px">15.9x</span></div>
<div style="position:absolute;left:321.00px;top:771.40px;width:983.00px;height:7.80px;background:#e2e8f0;border-radius:4px;"></div>
<div style="position:absolute;left:309.00px;top:804.00px;width:1006.80px;height:64.00px;background:#f8fafc;border:1px solid #f3f6f9;box-sizing:border-box;border-radius:8px;"></div>
<svg style="position:absolute;left:320.60px;top:819.30px;" width="16.5" height="16.5" viewBox="0 0 24 24"><path fill="#10b981" d="M19.3 16.9c.4-.7.7-1.5.7-2.4 0-2.5-2-4.5-4.5-4.5S11 12 11 14.5s2 4.5 4.5 4.5c.9 0 1.7-.3 2.4-.7l3.2 3.2 1.4-1.4-3.2-3.2zm-3.8.1c-1.4 0-2.5-1.1-2.5-2.5s1.1-2.5 2.5-2.5 2.5 1.1 2.5 2.5-1.1 2.5-2.5 2.5zM12 20v2C6.48 22 2 17.52 2 12S6.48 2 12 2c4.84 0 8.87 3.44 9.8 8h-2.07c-.64-2.46-2.4-4.47-4.73-5.41V5c0 1.1-.9 2-2 2h-2v2c0 .55-.45 1-1 1H8v2h2v3H9l-4.79-4.79C4.08 10.79 4 11.38 4 12c0 4.41 3.59 8 8 8z"/></svg>
<div class="t" style="left:349.30px;top:821.34px;font-size:13.3px;color:#0f172a;font-weight:400;font-family:'Liberation Sans', sans-serif;">OTA Boost</div>
<div style="position:absolute;left:1244.90px;top:817.70px;width:59.10px;height:19.80px;background:#dbeafe;border-radius:10px;"></div>
<div class="t" style="left:874.45px;width:800px;text-align:center;top:822.02px;font-size:10.6px;color:#1d4ed8;font-weight:400;font-family:'Liberation Sans', sans-serif;">On_track</div>
<div class="t" style="right:691.50px;top:822.28px;font-size:10.3px;font-family:'Liberation Sans', sans-serif;color:#475569;display:flex;align-items:baseline;"><span>Revenue:</span><span style="font-family:'Liberation Mono', monospace;color:#0f172a;margin-left:3px">$6249</span><span style="margin-left:16.5px">Conv:</span><span style="font-family:'Liberation Mono', monospace;color:#0f172a;margin-left:3px">6</span><span style="margin-left:16.5px">ROI:</span><span style="font-family:'Liberation Mono', monospace;color:#16a34a;margin-left:3px">12.5x</span></div>
<div style="position:absolute;left:321.00px;top:847.40px;width:983.00px;height:7.80px;background:#e2e8f0;border-radius:4px;"></div>
<div style="position:absolute;left:309.00px;top:880.00px;width:1006.80px;height:64.00px;background:#f8fafc;border:1px solid #f3f6f9;box-sizing:border-box;border-radius:8px;"></div>
<svg style="position:absolute;left:320.60px;top:895.30px;" width="16.5" height="16.5" viewBox="0 0 24 24"><path fill="#8b5cf6" d="M18 16.08c-.76 0-1.44.3-1.96.77L8.91 12.7c.05-.23.09-.46.09-.7s-.04-.47-.09-.7l7.05-4.11c.54.5 1.25.81 2.04.81 1.66 0 3-1.34 3-3s-1.34-3-3-3-3 1.34-3 3c0 .24.04.47.09.7L8.04 9.81C7.5 9.31 6.79 9 6 9c-1.66 0-3 1.34-3 3s1.34 3 3 3c.79 0 1.5-.31 2.04-.81l7.12 4.16c-.05.21-.08.43-.08.65 0 1.61 1.31 2.92 2.92 2.92 1.61 0 2.92-1.31 2.92-2.92s-1.31-2.92-2.92-2.92z"/></svg>
<div class="t" style="left:349.30px;top:897.34px;font-size:13.3px;color:#0f172a;font-weight:400;font-family:'Liberation Sans', sans-serif;">Social Ads</div>
<div style="position:absolute;left:1244.90px;top:893.70px;width:59.10px;height:19.80px;background:#dbeafe;border-radius:10px;"></div>
<div class="t" style="left:874.45px;width:800px;text-align:center;top:898.02px;font-size:10.6px;color:#1d4ed8;font-weight:400;font-family:'Liberation Sans', sans-serif;">On_track</div>
<div class="t" style="right:691.50px;top:898.28px;font-size:10.3px;font-family:'Liberation Sans', sans-serif;color:#475569;display:flex;align-items:baseline;"><span>Revenue:</span><span style="font-family:'Liberation Mono', monospace;color:#0f172a;margin-left:3px">$0</span><span style="margin-left:16.5px">Conv:</span><span style="font-family:'Liberation Mono', monospace;color:#0f172a;margin-left:3px">0</span><span style="margin-left:16.5px">ROI:</span><span style="font-family:'Liberation Mono', monospace;color:#16a34a;margin-left:3px">0.0x</span></div>
<div style="position:absolute;left:321.00px;top:923.40px;width:983.00px;height:7.80px;background:#e2e8f0;border-radius:4px;"></div>
<div style="position:absolute;left:309.00px;top:956.00px;width:1006.80px;height:64.00px;background:#f8fafc;border:1px solid #f3f6f9;box-sizing:border-box;border-radius:8px;"></div>
<svg style="position:absolute;left:320.60px;top:971.30px;" width="16.5" height="16.5" viewBox="0 0 24 24"><path fill="#06b6d4" d="M15.5 14h-.79l-.28-.27C15.41 12.59 16 11.11 16 9.5 16 5.91 13.09 3 9.5 3S3 5.91 3 9.5 5.91 16 9.5 16c1.61 0 3.09-.59 4.23-1.57l.27.28v.79l5 4.99L20.49 19l-4.99-5zm-6 0C7.01 14 5 11.99 5 9.5S7.01 5 9.5 5 14 7.01 14 9.5 11.99 14 9.5 14z"/></svg>
<div class="t" style="left:349.30px;top:973.34px;font-size:13.3px;color:#0f172a;font-weight:400;font-family:'Liberation Sans', sans-serif;">Metasearch</div>
<div style="position:absolute;left:1244.90px;top:969.70px;width:59.10px;height:19.80px;background:#dbeafe;border-radius:10px;"></div>
<div class="t" style="left:874.45px;width:800px;text-align:center;top:974.02px;font-size:10.6px;color:#1d4ed8;font-weight:400;font-family:'Liberation Sans', sans-serif;">On_track</div>
<div class="t" style="right:691.50px;top:974.28px;font-size:10.3px;font-family:'Liberation Sans', sans-serif;color:#475569;display:flex;align-items:baseline;"><span>Revenue:</span><span style="font-family:'Liberation Mono', monospace;color:#0f172a;margin-left:3px">$3267</span><span style="margin-left:16.5px">Conv:</span><span style="font-family:'Liberation Mono', monospace;color:#0f172a;margin-left:3px">3</span><span style="margin-left:16.5px">ROI:</span><span style="font-family:'Liberation Mono', monospace;color:#16a34a;margin-left:3px">21.8x</span></div>
<div style="position:absolute;left:321.00px;top:999.40px;width:983.00px;height:7.80px;background:#e2e8f0;border-radius:4px;"></div>
<div style="position:absolute;left:284.00px;top:1068.50px;width:1056.70px;height:40.00px;background:#ffffff;border:1px solid #e2e8f0;box-sizing:border-box;border-radius:8px;"></div>
<div style="position:absolute;left:1364.70px;top:327.60px;width:516.30px;height:368.10px;background:#ffffff;border:1px solid #e5e9ee;box-sizing:border-box;border-radius:8px;box-shadow:0 1px 2px rgba(15,23,42,0.04);"></div>
<svg style="position:absolute;left:1390.00px;top:352.00px;" width="24" height="24" viewBox="0 0 24 24"><path fill="#136a61" d="M20 9V7c0-1.1-.9-2-2-2h-3c0-1.66-1.34-3-3-3S9 3.34 9 5H6c-1.1 0-2 .9-2 2v2c-1.66 0-3 1.34-3 3s1.34 3 3 3v4c0 1.1.9 2 2 2h12c1.1 0 2-.9 2-2v-4c1.66 0 3-1.34 3-3s-1.34-3-3-3zM7.5 11.5c0-.83.67-1.5 1.5-1.5s1.5.67 1.5 1.5S9.83 13 9 13s-1.5-.67-1.5-1.5zM16 17H8v-2h8v2zm-1-4c-.83 0-1.5-.67-1.5-1.5S14.17 10 15 10s1.5.67 1.5 1.5S15.83 13 15 13z"/></svg>
<div class="t" style="left:1422.40px;top:357.05px;font-size:15.3px;color:#0f172a;font-weight:700;font-family:'Liberation Sans', sans-serif;">AI Agent Performance</div>
<div style="position:absolute;left:1389.80px;top:392.00px;width:456.10px;height:48.00px;background:#f8fafc;border:1px solid #f3f6f9;box-sizing:border-box;border-radius:8px;"></div>
<div style="position:absolute;left:1397.60px;top:400.00px;width:32.00px;height:32.00px;background:rgba(139,92,246,0.13);border-radius:8px;"></div>
<svg style="position:absolute;left:1407.10px;top:409.50px;" width="13" height="13" viewBox="0 0 24 24"><path fill="#8b5cf6" d="M8.4 18.2c.38.5.6 1.12.6 1.8 0 1.66-1.34 3-3 3s-3-1.34-3-3 1.34-3 3-3c.44 0 .85.09 1.23.26l1.41-1.77c-.92-1.03-1.29-2.39-1.09-3.69l-2.03-.68c-.54.83-1.46 1.38-2.52 1.38-1.66 0-3-1.34-3-3s1.34-3 3-3 3 1.34 3 3c0 .07 0 .14-.01.21l2.03.68c.64-1.21 1.82-2.09 3.22-2.32V5.91C9.96 5.57 9 4.4 9 3c0-1.66 1.34-3 3-3s3 1.34 3 3c0 1.4-.96 2.57-2.25 2.91v2.16c1.4.23 2.58 1.11 3.22 2.32l2.03-.68C18 9.64 18 9.57 18 9.5c0-1.66 1.34-3 3-3s3 1.34 3 3-1.34 3-3 3c-1.06 0-1.98-.55-2.52-1.37l-2.03.68c.2 1.29-.16 2.65-1.09 3.69l1.41 1.77c.38-.17.79-.26 1.23-.26 1.66 0 3 1.34 3 3s-1.34 3-3 3-3-1.34-3-3c0-.68.22-1.3.6-1.8l-1.41-1.77c-1.35.75-3.01.76-4.37 0L8.4 18.2z"/></svg>
<div class="t" style="left:1441.90px;top:404.02px;font-size:10.6px;color:#0f172a;font-weight:700;font-family:'Liberation Sans', sans-serif;">Orchestrator</div>
<div class="t" style="left:1441.90px;top:419.53px;font-size:10.0px;color:#64748b;font-weight:400;font-family:'Liberation Sans', sans-serif;">Workflow Coordinator</div>
<div style="position:absolute;left:1755.20px;top:413.00px;width:64.00px;height:6.00px;background:#22c55e;border-radius:3px;"></div>
<svg style="position:absolute;left:1826.90px;top:410.00px;" width="11.8" height="11.8" viewBox="0 0 24 24"><path fill="#16a34a" d="M12 2C6.48 2 2 6.48 2 12s4.48 10 10 10 10-4.48 10-10S17.52 2 12 2zm-2 15l-5-5 1.41-1.41L10 14.17l7.59-7.59L19 8l-9 9z"/></svg>
<div style="position:absolute;left:1389.80px;top:448.00px;width:456.10px;height:48.00px;background:#f8fafc;border:1px solid #f3f6f9;box-sizing:border-box;border-radius:8px;"></div>
<div style="position:absolute;left:1397.60px;top:456.00px;width:32.00px;height:32.00px;background:rgba(6,182,212,0.15);border-radius:8px;"></div>
<svg style="position:absolute;left:1400.30px;top:465.20px;" width="13.5" height="13.5" viewBox="0 0 24 24"><path fill="#06b6d4" d="M21 3H3c-1.1 0-2 .9-2 2v14c0 1.1.9 2 2 2h18c1.1 0 2-.9 2-2V5c0-1.1-.9-2-2-2zm0 16H3V5h10v4h8v10z"/></svg>
<div class="t" style="left:1441.90px;top:460.02px;font-size:10.6px;color:#0f172a;font-weight:700;font-family:'Liberation Sans', sans-serif;">Data Collector</div>
<div class="t" style="left:1441.90px;top:475.53px;font-size:10.0px;color:#64748b;font-weight:400;font-family:'Liberation Sans', sans-serif;">Multi-Source Data Aggregation</div>
<div style="position:absolute;left:1755.20px;top:469.00px;width:64.00px;height:6.00px;background:#22c55e;border-radius:3px;"></div>
<svg style="position:absolute;left:1826.90px;top:466.00px;" width="11.8" height="11.8" viewBox="0 0 24 24"><path fill="#16a34a" d="M12 2C6.48 2 2 6.48 2 12s4.48 10 10 10 10-4.48 10-10S17.52 2 12 2zm-2 15l-5-5 1.41-1.41L10 14.17l7.59-7.59L19 8l-9 9z"/></svg>
<div style="position:absolute;left:1389.80px;top:504.00px;width:456.10px;height:48.00px;background:#f8fafc;border:1px solid #f3f6f9;box-sizing:border-box;border-radius:8px;"></div>
<div style="position:absolute;left:1397.60px;top:512.00px;width:32.00px;height:32.00px;background:rgba(59,130,246,0.15);border-radius:8px;"></div>
<svg style="position:absolute;left:1406.60px;top:521.00px;" width="14" height="14" viewBox="0 0 24 24"><path fill="#3b82f6" d="M19 3H5c-1.1 0-2 .9-2 2v14c0 1.1.9 2 2 2h14c1.1 0 2-.9 2-2V5c0-1.1-.9-2-2-2zM9 17H7v-7h2v7zm4 0h-2V7h2v10zm4 0h-2v-4h2v4z"/></svg>
<div class="t" style="left:1441.90px;top:516.02px;font-size:10.6px;color:#0f172a;font-weight:700;font-family:'Liberation Sans', sans-serif;">Market Analyst</div>
<div class="t" style="left:1441.90px;top:531.53px;font-size:10.0px;color:#64748b;font-weight:400;font-family:'Liberation Sans', sans-serif;">Competitive Intelligence</div>
<div style="position:absolute;left:1755.20px;top:525.00px;width:64.00px;height:6.00px;background:#22c55e;border-radius:3px;"></div>
<svg style="position:absolute;left:1826.90px;top:522.00px;" width="11.8" height="11.8" viewBox="0 0 24 24"><path fill="#16a34a" d="M12 2C6.48 2 2 6.48 2 12s4.48 10 10 10 10-4.48 10-10S17.52 2 12 2zm-2 15l-5-5 1.41-1.41L10 14.17l7.59-7.59L19 8l-9 9z"/></svg>
<div style="position:absolute;left:1389.80px;top:560.00px;width:456.10px;height:48.00px;background:#f8fafc;border:1px solid #f3f6f9;box-sizing:border-box;border-radius:8px;"></div>
<div style="position:absolute;left:1397.60px;top:568.00px;width:32.00px;height:32.00px;background:rgba(16,185,129,0.15);border-radius:8px;"></div>
<svg style="position:absolute;left:1406.85px;top:577.25px;" width="13.5" height="13.5" viewBox="0 0 24 24"><path fill="#10b981" d="M16 6l2.29 2.29-4.88 4.88-4-4L2 16.59 3.41 18l6-6 4 4 6.3-6.29L22 12V6z"/></svg>
<div class="t" style="left:1441.90px;top:572.02px;font-size:10.6px;color:#0f172a;font-weight:700;font-family:'Liberation Sans', sans-serif;">Demand Forecaster</div>
<div class="t" style="left:1441.90px;top:587.53px;font-size:10.0px;color:#64748b;font-weight:400;font-family:'Liberation Sans', sans-serif;">Predictive Analytics</div>
<div style="position:absolute;left:1755.20px;top:581.00px;width:64.00px;height:6.00px;background:#22c55e;border-radius:3px;"></div>
<svg style="position:absolute;left:1826.90px;top:578.00px;" width="11.8" height="11.8" viewBox="0 0 24 24"><path fill="#16a34a" d="M12 2C6.48 2 2 6.48 2 12s4.48 10 10 10 10-4.48 10-10S17.52 2 12 2zm-2 15l-5-5 1.41-1.41L10 14.17l7.59-7.59L19 8l-9 9z"/></svg>
<div style="position:absolute;left:1389.80px;top:616.00px;width:456.10px;height:48.00px;background:#f8fafc;border:1px solid #f3f6f9;box-sizing:border-box;border-radius:8px;"></div>
<div style="position:absolute;left:1397.60px;top:624.00px;width:32.00px;height:32.00px;background:rgba(245,158,11,0.15);border-radius:8px;"></div>
<svg style="position:absolute;left:1406.10px;top:632.50px;" width="15" height="15" viewBox="0 0 24 24"><path fill="#f59e0b" d="M11.8 10.9c-2.27-.59-3-1.2-3-2.15 0-1.09 1.01-1.85 2.7-1.85 1.78 0 2.44.85 2.5 2.1h2.21c-.07-1.72-1.12-3.3-3.21-3.81V3h-3v2.16c-1.94.42-3.5 1.68-3.5 3.61 0 2.31 1.91 3.46 4.7 4.13 2.5.6 3 1.48 3 2.41 0 .69-.49 1.79-2.7 1.79-2.06 0-2.87-.92-2.98-2.1h-2.2c.12 2.19 1.76 3.42 3.68 3.83V21h3v-2.15c1.95-.37 3.5-1.5 3.5-3.55 0-2.84-2.43-3.81-4.7-4.4z"/></svg>
<div class="t" style="left:1441.90px;top:628.02px;font-size:10.6px;color:#0f172a;font-weight:700;font-family:'Liberation Sans', sans-serif;">Pricing Optimizer</div>
<div class="t" style="left:1441.90px;top:643.53px;font-size:10.0px;color:#64748b;font-weight:400;font-family:'Liberation Sans', sans-serif;">Revenue Optimization</div>
<div style="position:absolute;left:1755.20px;top:637.00px;width:64.00px;height:6.00px;background:#22c55e;border-radius:3px;"></div>
<svg style="position:absolute;left:1826.90px;top:634.00px;" width="11.8" height="11.8" viewBox="0 0 24 24"><path fill="#16a34a" d="M12 2C6.48 2 2 6.48 2 12s4.48 10 10 10 10-4.48 10-10S17.52 2 12 2zm-2 15l-5-5 1.41-1.41L10 14.17l7.59-7.59L19 8l-9 9z"/></svg>
<div style="position:absolute;left:1846.50px;top:392.00px;width:10.50px;height:280.00px;background:#eef2f2;"></div>
<svg style="position:absolute;left:1848.60px;top:395.00px" width="6.2" height="4.8" viewBox="0 0 6.2 4.8"><polygon points="0,4.8 3.1,0 6.2,4.8" fill="#94b4b0"/></svg>
<div style="position:absolute;left:1848.80px;top:404.00px;width:5.70px;height:99.00px;border-radius:3px;background:#94b4b0;"></div>
<svg style="position:absolute;left:1848.60px;top:664.50px" width="6.2" height="4.8" viewBox="0 0 6.2 4.8"><polygon points="0,0 6.2,0 3.1,4.8" fill="#94b4b0"/></svg>
<div style="position:absolute;left:1364.70px;top:721.30px;width:516.30px;height:400.00px;background:#ffffff;border:1px solid #e5e9ee;box-sizing:border-box;border-radius:8px;box-shadow:0 1px 2px rgba(15,23,42,0.04);"></div>
<svg style="position:absolute;left:1389.50px;top:745.30px;" width="24" height="24" viewBox="0 0 24 24"><path fill="#136a61" d="M22 9V7h-2V5c0-1.1-.9-2-2-2H4c-1.1 0-2 .9-2 2v14c0 1.1.9 2 2 2h14c1.1 0 2-.9 2-2v-2h2v-2h-2v-2h2v-2h-2V9h2zm-4 10H4V5h14v14zM6 13h5v4H6zm6-6h4v3h-4zM6 7h5v5H6zm6 4h4v6h-4z"/></svg>
<div class="t" style="left:1422.40px;top:750.71px;font-size:15.1px;color:#0f172a;font-weight:700;font-family:'Liberation Sans', sans-serif;">Technical Metrics</div>
<div class="t" style="left:1390.00px;top:789.07px;font-size:10.9px;color:#475569;font-weight:700;font-family:'Liberation Sans', sans-serif;">Performance</div>
<div style="position:absolute;left:1390.00px;top:810.20px;width:229.20px;height:51.00px;background:#f8fafc;border-radius:8px;"></div>
<div class="t" style="left:1398.20px;top:820.91px;font-size:10.5px;color:#64748b;font-weight:400;font-family:'Liberation Sans', sans-serif;">P95 Latency</div>
<div class="t" style="left:1398.20px;top:838.60px;font-size:12.4px;color:#0f172a;font-weight:400;font-family:'Liberation Mono', monospace;">157ms</div>
<div style="position:absolute;left:1627.40px;top:810.20px;width:229.20px;height:51.00px;background:#f8fafc;border-radius:8px;"></div>
<div class="t" style="left:1635.60px;top:820.91px;font-size:10.5px;color:#64748b;font-weight:400;font-family:'Liberation Sans', sans-serif;">Throughput</div>
<div class="t" style="left:1635.60px;top:838.60px;font-size:12.4px;color:#0f172a;font-weight:400;font-family:'Liberation Mono', monospace;">1497 rps</div>
<div class="t" style="left:1390.00px;top:880.17px;font-size:10.9px;color:#475569;font-weight:700;font-family:'Liberation Sans', sans-serif;">AI Metrics</div>
<div style="position:absolute;left:1390.00px;top:902.40px;width:229.20px;height:51.00px;background:#f8fafc;border-radius:8px;"></div>
<div class="t" style="left:1398.20px;top:913.11px;font-size:10.5px;color:#64748b;font-weight:400;font-family:'Liberation Sans', sans-serif;">Inferences</div>
<div class="t" style="left:1398.20px;top:930.80px;font-size:12.4px;color:#0f172a;font-weight:400;font-family:'Liberation Mono', monospace;">818</div>
<div style="position:absolute;left:1627.40px;top:902.40px;width:229.20px;height:51.00px;background:#f8fafc;border-radius:8px;"></div>
<div class="t" style="left:1635.60px;top:913.11px;font-size:10.5px;color:#64748b;font-weight:400;font-family:'Liberation Sans', sans-serif;">Tokens</div>
<div class="t" style="left:1635.60px;top:930.80px;font-size:12.4px;color:#0f172a;font-weight:400;font-family:'Liberation Mono', monospace;">12.5k</div>
<div style="position:absolute;left:1390.00px;top:961.90px;width:229.20px;height:51.00px;background:#f8fafc;border-radius:8px;"></div>
<div class="t" style="left:1398.20px;top:972.61px;font-size:10.5px;color:#64748b;font-weight:400;font-family:'Liberation Sans', sans-serif;">Cache Hit</div>
<div class="t" style="left:1398.20px;top:990.30px;font-size:12.4px;color:#0f172a;font-weight:400;font-family:'Liberation Mono', monospace;">86%</div>
<div style="position:absolute;left:1627.40px;top:961.90px;width:229.20px;height:51.00px;background:#f8fafc;border-radius:8px;"></div>
<div class="t" style="left:1635.60px;top:972.61px;font-size:10.5px;color:#64748b;font-weight:400;font-family:'Liberation Sans', sans-serif;">Accuracy</div>
<div class="t" style="left:1635.60px;top:990.30px;font-size:12.4px;color:#0f172a;font-weight:400;font-family:'Liberation Mono', monospace;">91.7%</div>
<div class="t" style="left:1390.00px;top:1032.07px;font-size:10.9px;color:#475569;font-weight:700;font-family:'Liberation Sans', sans-serif;">Circuit Breakers</div>
<div class="t" style="left:1390.00px;top:1058.57px;font-size:10.9px;color:#475569;font-weight:400;font-family:'Liberation Sans', sans-serif;">PMS Integration</div>
<div style="position:absolute;left:1808.80px;top:1053.60px;width:48.10px;height:20.10px;background:#dcfce7;border-radius:10px;"></div>
<div class="t" style="left:1432.85px;width:800px;text-align:center;top:1058.97px;font-size:10.9px;color:#15803d;font-weight:400;font-family:'Liberation Sans', sans-serif;">closed</div>
<div style="position:absolute;left:1808.80px;top:1077.60px;width:48.10px;height:20.10px;background:#dcfce7;border-radius:10px;"></div>
<div style="position:absolute;left:244.00px;top:20.00px;width:24.00px;height:24.00px;border-radius:50%;background:#ffffff;border:1px solid #e2e8f0;box-sizing:border-box;box-shadow:0 2px 4px rgba(0,0,0,0.12);"></div>
<svg style="position:absolute;left:250px;top:24px" width="12" height="16" viewBox="250 24 12 16"><polyline points="258.1,26.9 252.9,32 258.1,37.1" fill="none" stroke="#475569" stroke-width="1.5" stroke-linecap="round" stroke-linejoin="round"/></svg>
</div></body></html>
